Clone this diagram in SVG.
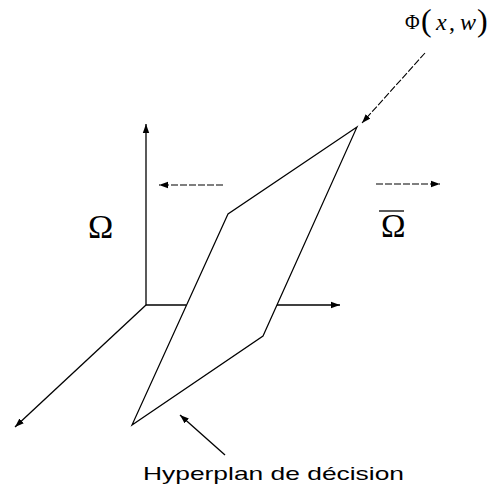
<svg xmlns="http://www.w3.org/2000/svg" width="491" height="486" viewBox="0 0 491 486">
<style>
.ax{stroke:#000;stroke-width:1.3;fill:none}
.pl{stroke:#000;stroke-width:1.2;fill:none;stroke-linejoin:miter}
.da{stroke:#000;stroke-width:1.1;fill:none;stroke-dasharray:7 2}
.ser{font-family:"Liberation Serif","Times New Roman",serif;fill:#000}
.san{font-family:"Liberation Sans",Arial,sans-serif;fill:#000}
</style>
<defs>
<marker id="ah" markerWidth="10" markerHeight="8" refX="9" refY="4" orient="auto" markerUnits="userSpaceOnUse">
<path d="M0,0.8 L9,4 L0,7.2 Z" fill="#000"/>
</marker>
</defs>
<rect width="491" height="486" fill="#fff"/>
<g id="connectors">
<line class="ax" x1="146" y1="305" x2="146" y2="124" marker-end="url(#ah)"/>
<line class="ax" x1="146" y1="305" x2="186" y2="305"/>
<line class="ax" x1="277" y1="305" x2="340" y2="305" marker-end="url(#ah)"/>
<line class="ax" x1="146" y1="305" x2="15" y2="427" marker-end="url(#ah)"/>
<line class="da" x1="223" y1="185" x2="159" y2="185" marker-end="url(#ah)"/>
<line class="da" x1="376" y1="184" x2="440" y2="184" marker-end="url(#ah)"/>
<line class="da" x1="425" y1="53" x2="362" y2="123" marker-end="url(#ah)"/>
<line class="ax" x1="225" y1="455" x2="180" y2="415" stroke-width="1.1" marker-end="url(#ah)"/>
</g>
<g id="hyperplane">
<polygon class="pl" points="357,127 228,214 132,425 263,336"/>
</g>
<g id="omega">
<text class="ser" x="88" y="238" font-size="34">Ω</text>
</g>
<g id="omega-bar">
<text class="ser" x="381" y="237" font-size="33">Ω</text>
<line x1="379" y1="211" x2="404" y2="211" stroke="#000" stroke-width="1.3"/>
</g>
<g id="phi">
<text class="ser" x="405" y="29" font-size="20">Φ</text>
<text class="ser" x="421" y="31" font-size="32">(</text>
<text class="ser" x="436" y="30" font-size="24" font-style="italic">x</text>
<text class="ser" x="449" y="30" font-size="24">,</text>
<text class="ser" x="460" y="30" font-size="24" font-style="italic">w</text>
<text class="ser" x="477" y="31" font-size="32">)</text>
</g>
<g id="label">
<text class="san" x="143" y="480" font-size="19" textLength="261" lengthAdjust="spacingAndGlyphs">Hyperplan de décision</text>
</g>
</svg>
